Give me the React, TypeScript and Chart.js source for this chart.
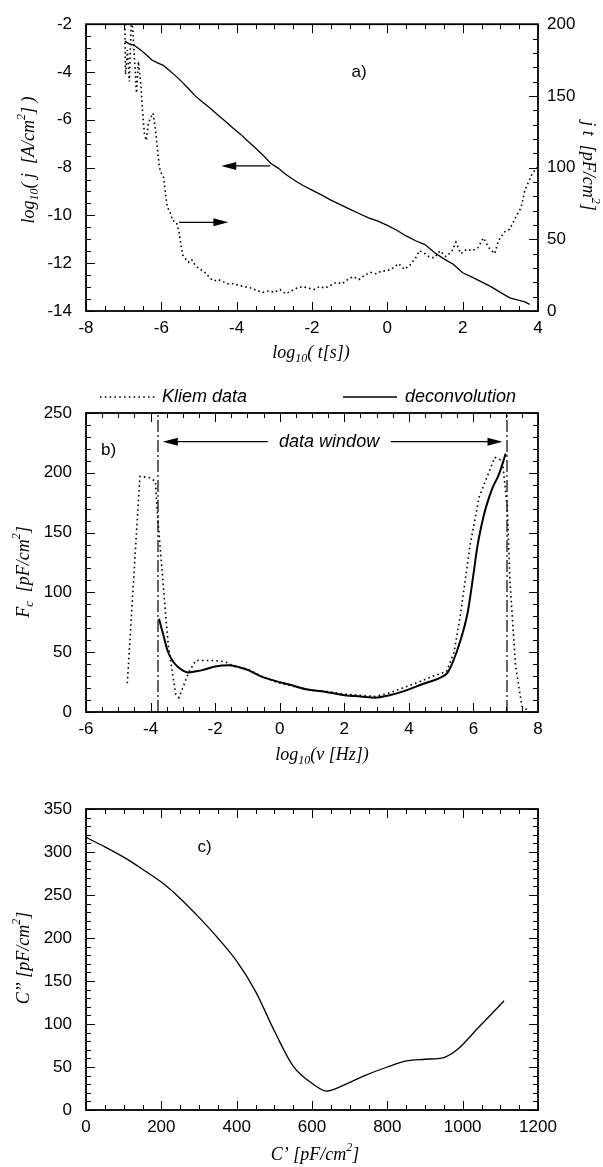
import React, { useEffect, useRef } from 'react';
import Chart from 'chart.js/auto';

// ---------- Panel a: current transient ----------
const aLogT = [-6.97, -6.85, -6.7, -6.55, -6.4, -6.25, -6.1, -5.95, -5.8, -5.65, -5.5, -5.3, -5.1, -4.9, -4.7, -4.5, -4.3, -4.1, -3.9, -3.7, -3.5, -3.3, -3.1, -2.9, -2.7, -2.5, -2.25, -2.0, -1.75, -1.5, -1.25, -1.0, -0.75, -0.5, -0.25, 0, 0.25, 0.5, 0.75, 1.0, 1.25, 1.5, 1.75, 2.0, 2.25, 2.5, 2.75, 3.0, 3.25, 3.5, 3.65, 3.78];
const aLogJ = [-2.71, -2.82, -2.9, -3.08, -3.28, -3.5, -3.62, -3.72, -3.92, -4.12, -4.34, -4.66, -5.0, -5.27, -5.52, -5.8, -6.06, -6.34, -6.6, -6.9, -7.18, -7.48, -7.82, -8.02, -8.28, -8.5, -8.74, -8.94, -9.14, -9.36, -9.55, -9.74, -9.92, -10.1, -10.24, -10.42, -10.62, -10.86, -11.06, -11.22, -11.55, -11.82, -12.04, -12.4, -12.58, -12.78, -12.98, -13.22, -13.45, -13.56, -13.62, -13.72];
const aDotT = [-6.97, -6.95, -6.9, -6.85, -6.8, -6.76, -6.7, -6.66, -6.61, -6.55, -6.5, -6.45, -6.4, -6.35, -6.3, -6.22, -6.15, -6.1, -6.05, -6.0, -5.94, -5.88, -5.84, -5.78, -5.7, -5.6, -5.53, -5.48, -5.43, -5.35, -5.28, -5.2, -5.1, -5.02, -4.9, -4.8, -4.72, -4.6, -4.5, -4.4, -4.25, -4.1, -3.95, -3.8, -3.6, -3.45, -3.3, -3.15, -3.0, -2.85, -2.7, -2.55, -2.4, -2.25, -2.1, -1.95, -1.8, -1.65, -1.5, -1.35, -1.2, -1.05, -0.9, -0.75, -0.6, -0.45, -0.3, -0.15, 0.0, 0.15, 0.3, 0.45, 0.6, 0.75, 0.85, 1.0, 1.1, 1.25, 1.4, 1.55, 1.7, 1.82, 1.95, 2.1, 2.25, 2.4, 2.55, 2.7, 2.85, 2.95, 3.1, 3.25, 3.4, 3.55, 3.65, 3.75, 3.85, 3.98];
const aJT = [200, 165, 182, 160, 200, 198, 170, 152, 174, 160, 140, 124, 119, 130, 134, 138, 125, 112, 100, 96, 93, 80, 72, 70, 63, 62, 55, 46, 39, 36, 34, 36, 32, 30, 28, 26, 23, 21, 22, 21, 19, 19, 18, 17, 16, 14, 13, 14, 13, 15, 12, 14, 16, 17, 16, 15, 17, 16, 18, 20, 19, 22, 24, 22, 25, 27, 26, 28, 28, 30, 33, 29, 32, 37, 42, 40, 38, 37, 42, 38, 41, 48, 40, 43, 42, 44, 51, 44, 40, 49, 55, 57, 65, 72, 84, 90, 96, 100];
const aXTicks = { min: -8, max: 4, major: 2, minor: 0.5 };
const aYTicks = { min: -14, max: -2, major: 2, minor: 0.5 };
const aY2Ticks = { min: 0, max: 200, major: 50, minor: 10 };

// ---------- Panel b: distribution function ----------
const bKliemNu = [-4.72, -4.33, -4.05, -3.85, -3.8, -3.65, -3.45, -3.22, -3.12, -2.82, -2.6, -2.0, -1.69, -1.4, -1.0, -0.5, 0.0, 0.5, 1.0, 1.5, 2.0, 2.5, 2.96, 3.4, 3.8, 4.3, 4.75, 5.17, 5.4, 5.59, 5.9, 6.18, 6.4, 6.66, 6.9, 7.05, 7.13, 7.3, 7.5, 7.7];
const bKliemFc = [24, 197, 196, 193, 170, 120, 55, 15, 12, 33, 43, 43, 42, 38, 36, 29, 24, 21, 18, 17, 15, 14, 13, 16, 20, 25, 30, 34, 50, 80, 140, 180, 195, 213, 210, 170, 110, 40, 5, 1];
const bDeconNu = [-3.74, -3.6, -3.47, -3.3, -3.12, -2.95, -2.82, -2.6, -2.4, -2.0, -1.57, -1.2, -0.97, -0.6, -0.14, 0.3, 0.82, 1.4, 2.01, 2.5, 2.96, 3.4, 3.8, 4.39, 4.99, 5.2, 5.35, 5.6, 5.82, 6.0, 6.12, 6.3, 6.42, 6.6, 6.78, 7.0];
const bDeconFc = [78, 64, 51, 42, 37, 34, 33, 34, 35, 38, 39, 37, 35, 30, 26, 23, 19, 17, 14, 13, 12, 14, 17, 23, 29, 33, 41, 60, 83, 115, 138, 162, 174, 188, 198, 216];
const bWindow = [-3.77, 7.04];
const bXTicks = { min: -6, max: 8, major: 2, minor: 0.5 };
const bYTicks = { min: 0, max: 250, major: 50, minor: 10 };

// ---------- Panel c: complex capacitance ----------
const cReal = [0, 50, 100, 150, 200, 250, 300, 350, 400, 450, 500, 550, 600, 640, 680, 740, 800, 850, 900, 950, 985, 1040, 1110];
const cImag = [317, 306, 294, 280, 265, 246, 224, 200, 173, 138, 92, 51, 31, 22, 28, 40, 50, 57, 59, 61, 70, 95, 127];
const cXTicks = { min: 0, max: 1200, major: 200, minor: 50 };
const cYTicks = { min: 0, max: 350, major: 50, minor: 10 };

// ---------- helpers ----------
const SANS = "'Liberation Sans', Arial, Helvetica, sans-serif";
const SERIF = "'Liberation Serif', 'Times New Roman', serif";
const PLOT_LEFT = 86;
const PLOT_RIGHT = 538;
const W = 603;
const TITLE_SIZE = 18;

type Seg = { t: string; k?: 'sub' | 'sup' };

function drawRich(ctx: CanvasRenderingContext2D, segs: Seg[], cx: number, cy: number, rot: number, size: number) {
  ctx.save();
  ctx.translate(cx, cy);
  ctx.rotate(rot);
  const base = `italic ${size}px ${SERIF}`;
  const small = `italic ${Math.round(size * 0.68)}px ${SERIF}`;
  let w = 0;
  for (const s of segs) {
    ctx.font = s.k ? small : base;
    w += ctx.measureText(s.t).width;
  }
  let x = -w / 2;
  ctx.textBaseline = 'middle';
  ctx.textAlign = 'left';
  ctx.fillStyle = '#000';
  for (const s of segs) {
    ctx.font = s.k ? small : base;
    const dy = s.k === 'sub' ? size * 0.35 : s.k === 'sup' ? -size * 0.4 : 0;
    ctx.fillText(s.t, x, dy);
    x += ctx.measureText(s.t).width;
  }
  ctx.restore();
}

function drawArrow(ctx: CanvasRenderingContext2D, x1: number, y1: number, x2: number, y2: number) {
  const len = 15, half = 4;
  const ang = Math.atan2(y2 - y1, x2 - x1);
  ctx.save();
  ctx.strokeStyle = '#000';
  ctx.fillStyle = '#000';
  ctx.lineWidth = 1.3;
  ctx.beginPath();
  ctx.moveTo(x1, y1);
  ctx.lineTo(x2 - Math.cos(ang) * len * 0.8, y2 - Math.sin(ang) * len * 0.8);
  ctx.stroke();
  ctx.beginPath();
  ctx.moveTo(x2, y2);
  ctx.lineTo(x2 - Math.cos(ang) * len - Math.sin(ang) * half, y2 - Math.sin(ang) * len + Math.cos(ang) * half);
  ctx.lineTo(x2 - Math.cos(ang) * len + Math.sin(ang) * half, y2 - Math.sin(ang) * len - Math.cos(ang) * half);
  ctx.closePath();
  ctx.fill();
  ctx.restore();
}

type TickSpec = { min: number; max: number; major: number; minor: number };

function framePlugin(sides: { side: 'left' | 'right' | 'top' | 'bottom'; scale: string; spec: TickSpec }[]) {
  return {
    id: 'frame',
    afterDatasetsDraw(chart: any) {
      const ctx: CanvasRenderingContext2D = chart.ctx;
      const a = chart.chartArea;
      ctx.save();
      ctx.strokeStyle = '#000';
      ctx.lineWidth = 1;
      for (const sd of sides) {
        const s = chart.scales[sd.scale];
        const n = Math.round((sd.spec.max - sd.spec.min) / sd.spec.minor);
        for (let i = 0; i <= n; i++) {
          const v = sd.spec.min + i * sd.spec.minor;
          const r = v / sd.spec.major;
          const isMajor = Math.abs(r - Math.round(r)) < 1e-6;
          const len = isMajor ? 9 : 5;
          const p = Math.round(s.getPixelForValue(v)) + 0.5;
          ctx.beginPath();
          if (sd.side === 'bottom') { ctx.moveTo(p, a.bottom); ctx.lineTo(p, a.bottom - len); }
          if (sd.side === 'top') { ctx.moveTo(p, a.top); ctx.lineTo(p, a.top + len); }
          if (sd.side === 'left') { ctx.moveTo(a.left, p); ctx.lineTo(a.left + len, p); }
          if (sd.side === 'right') { ctx.moveTo(a.right, p); ctx.lineTo(a.right - len, p); }
          ctx.stroke();
        }
      }
      ctx.lineWidth = 1.8;
      ctx.strokeRect(a.left, a.top, a.right - a.left, a.bottom - a.top);
      ctx.restore();
    },
  };
}

const tickFont = { family: SANS, size: 17 };

function xScale(spec: TickSpec, height: number) {
  return {
    type: 'linear' as const,
    position: 'bottom' as const,
    min: spec.min,
    max: spec.max,
    grid: { display: false, drawTicks: false },
    border: { display: false },
    ticks: { stepSize: spec.major, color: '#000', font: tickFont, padding: 7, maxRotation: 0, callback: (v: any) => String(v) },
    afterFit: (s: any) => { s.height = height; },
  };
}

function yScale(spec: TickSpec, width: number, position: 'left' | 'right', padding: number) {
  return {
    type: 'linear' as const,
    position,
    min: spec.min,
    max: spec.max,
    grid: { display: false, drawTicks: false },
    border: { display: false },
    ticks: { stepSize: spec.major, color: '#000', font: tickFont, padding, callback: (v: any) => String(v) },
    afterFit: (s: any) => { s.width = width; },
  };
}

function pts(xs: number[], ys: number[]) {
  return xs.map((x, i) => ({ x, y: ys[i] }));
}

function useChart(build: () => any) {
  const ref = useRef<HTMLCanvasElement>(null);
  useEffect(() => {
    if (!ref.current) return;
    const chart = new Chart(ref.current, build());
    return () => chart.destroy();
  }, []);
  return ref;
}

const baseOptions = (padTop: number, padRight: number) => ({
  responsive: false,
  animation: false,
  devicePixelRatio: 1,
  layout: { padding: { top: padTop, right: padRight, left: 0, bottom: 0 } },
  plugins: { legend: { display: false }, tooltip: { enabled: false }, title: { display: false } },
});

// ---------- Panel a ----------
const A_H = 370;
function PanelA() {
  const ref = useChart(() => ({
    type: 'scatter',
    data: {
      datasets: [
        { data: pts(aLogT, aLogJ), yAxisID: 'y', showLine: true, borderColor: '#000', borderWidth: 1.3, pointRadius: 0, tension: 0 },
        { data: pts(aDotT, aJT), yAxisID: 'y2', showLine: true, borderColor: '#000', borderWidth: 1.6, borderDash: [1.6, 3], pointRadius: 0, tension: 0 },
      ],
    },
    options: {
      ...baseOptions(17, 0),
      scales: {
        x: xScale(aXTicks, A_H - 311),
        y: yScale(aYTicks, PLOT_LEFT, 'left', 14),
        y2: yScale(aY2Ticks, W - PLOT_RIGHT, 'right', 9),
      },
    },
    plugins: [
      framePlugin([
        { side: 'bottom', scale: 'x', spec: aXTicks },
        { side: 'top', scale: 'x', spec: aXTicks },
        { side: 'left', scale: 'y', spec: aYTicks },
        { side: 'right', scale: 'y2', spec: aY2Ticks },
      ]),
      {
        id: 'annA',
        afterDraw(chart: any) {
          const ctx = chart.ctx as CanvasRenderingContext2D;
          const x = chart.scales.x, y = chart.scales.y;
          drawArrow(ctx, x.getPixelForValue(-3.11), y.getPixelForValue(-7.93), x.getPixelForValue(-4.41), y.getPixelForValue(-7.93));
          drawArrow(ctx, x.getPixelForValue(-5.53), y.getPixelForValue(-10.29), x.getPixelForValue(-4.22), y.getPixelForValue(-10.29));
          ctx.save();
          ctx.font = `17px ${SANS}`;
          ctx.fillStyle = '#000';
          ctx.textAlign = 'center';
          ctx.textBaseline = 'middle';
          ctx.fillText('a)', x.getPixelForValue(-0.75), y.getPixelForValue(-4.0));
          ctx.restore();
          drawRich(ctx, [{ t: 'log' }, { t: '10', k: 'sub' }, { t: '( t[s])' }], 311, 353, 0, TITLE_SIZE);
          drawRich(ctx, [{ t: 'log' }, { t: '10', k: 'sub' }, { t: '( j  [A/cm' }, { t: '2', k: 'sup' }, { t: '] )' }], 29, 160, -Math.PI / 2, TITLE_SIZE);
          drawRich(ctx, [{ t: 'j t  [pF/cm' }, { t: '2', k: 'sup' }, { t: ']' }], 588, 166, Math.PI / 2, TITLE_SIZE);
        },
      },
    ],
  }));
  return <canvas ref={ref} width={W} height={A_H} style={{ position: 'absolute', left: 0, top: 0, display: 'block' }} />;
}

// ---------- Panel b ----------
const B_TOP = 370;
const B_H = 410;
function PanelB() {
  const ref = useChart(() => ({
    type: 'scatter',
    data: {
      datasets: [
        { data: pts(bKliemNu, bKliemFc), showLine: true, borderColor: '#000', borderWidth: 1.6, borderDash: [1.6, 3.2], pointRadius: 0, tension: 0 },
        { data: pts(bDeconNu, bDeconFc), showLine: true, borderColor: '#000', borderWidth: 2, pointRadius: 0, tension: 0.35, cubicInterpolationMode: 'monotone' },
        { data: [{ x: bWindow[0], y: bYTicks.min }, { x: bWindow[0], y: bYTicks.max }], showLine: true, borderColor: '#000', borderWidth: 1.2, borderDash: [12, 3, 2, 3], pointRadius: 0 },
        { data: [{ x: bWindow[1], y: bYTicks.min }, { x: bWindow[1], y: bYTicks.max }], showLine: true, borderColor: '#000', borderWidth: 1.2, borderDash: [12, 3, 2, 3], pointRadius: 0 },
      ],
    },
    options: {
      ...baseOptions(413 - B_TOP, W - PLOT_RIGHT),
      scales: {
        x: xScale(bXTicks, B_H - (712 - B_TOP)),
        y: yScale(bYTicks, PLOT_LEFT, 'left', 14),
      },
    },
    plugins: [
      framePlugin([
        { side: 'bottom', scale: 'x', spec: bXTicks },
        { side: 'top', scale: 'x', spec: bXTicks },
        { side: 'left', scale: 'y', spec: bYTicks },
        { side: 'right', scale: 'y', spec: bYTicks },
      ]),
      {
        id: 'annB',
        afterDraw(chart: any) {
          const ctx = chart.ctx as CanvasRenderingContext2D;
          const x = chart.scales.x, y = chart.scales.y;
          const yw = y.getPixelForValue(226);
          drawArrow(ctx, x.getPixelForValue(-0.37), yw, x.getPixelForValue(-3.62), yw);
          drawArrow(ctx, x.getPixelForValue(3.44), yw, x.getPixelForValue(6.9), yw);
          ctx.save();
          ctx.fillStyle = '#000';
          ctx.textBaseline = 'middle';
          ctx.textAlign = 'center';
          ctx.font = `italic 18px ${SANS}`;
          ctx.fillText('data window', x.getPixelForValue(1.53), yw);
          ctx.font = `17px ${SANS}`;
          ctx.fillText('b)', x.getPixelForValue(-5.3), y.getPixelForValue(219));
          // legend
          const ly = 397 - B_TOP;
          ctx.strokeStyle = '#000';
          ctx.lineWidth = 1.6;
          ctx.setLineDash([1.6, 3.2]);
          ctx.beginPath(); ctx.moveTo(100, ly); ctx.lineTo(157, ly); ctx.stroke();
          ctx.setLineDash([]);
          ctx.lineWidth = 1.3;
          ctx.beginPath(); ctx.moveTo(343, ly); ctx.lineTo(397, ly); ctx.stroke();
          ctx.textAlign = 'left';
          ctx.font = `italic 18px ${SANS}`;
          ctx.fillText('Kliem data', 162, ly);
          ctx.fillText('deconvolution', 405, ly);
          ctx.restore();
          drawRich(ctx, [{ t: 'log' }, { t: '10', k: 'sub' }, { t: '(ν [Hz])' }], 322, 755 - B_TOP, 0, TITLE_SIZE);
          drawRich(ctx, [{ t: 'F' }, { t: 'c', k: 'sub' }, { t: '  [pF/cm' }, { t: '2', k: 'sup' }, { t: ']' }], 24, 572 - B_TOP, -Math.PI / 2, TITLE_SIZE);
        },
      },
    ],
  }));
  return <canvas ref={ref} width={W} height={B_H} style={{ position: 'absolute', left: 0, top: B_TOP, display: 'block' }} />;
}

// ---------- Panel c ----------
const C_TOP = 780;
const C_H = 387;
function PanelC() {
  const ref = useChart(() => ({
    type: 'scatter',
    data: {
      datasets: [
        { data: pts(cReal, cImag), showLine: true, borderColor: '#000', borderWidth: 1.3, pointRadius: 0, tension: 0.4, cubicInterpolationMode: 'monotone' },
      ],
    },
    options: {
      ...baseOptions(809 - C_TOP, W - PLOT_RIGHT),
      scales: {
        x: xScale(cXTicks, C_H - (1110 - C_TOP)),
        y: yScale(cYTicks, PLOT_LEFT, 'left', 14),
      },
    },
    plugins: [
      framePlugin([
        { side: 'bottom', scale: 'x', spec: cXTicks },
        { side: 'top', scale: 'x', spec: cXTicks },
        { side: 'left', scale: 'y', spec: cYTicks },
        { side: 'right', scale: 'y', spec: cYTicks },
      ]),
      {
        id: 'annC',
        afterDraw(chart: any) {
          const ctx = chart.ctx as CanvasRenderingContext2D;
          const x = chart.scales.x, y = chart.scales.y;
          ctx.save();
          ctx.fillStyle = '#000';
          ctx.textBaseline = 'middle';
          ctx.textAlign = 'center';
          ctx.font = `17px ${SANS}`;
          ctx.fillText('c)', x.getPixelForValue(315), y.getPixelForValue(305));
          ctx.restore();
          drawRich(ctx, [{ t: 'C’ [pF/cm' }, { t: '2', k: 'sup' }, { t: ']' }], 315, 1155 - C_TOP, 0, TITLE_SIZE);
          drawRich(ctx, [{ t: 'C’’ [pF/cm' }, { t: '2', k: 'sup' }, { t: ']' }], 24, 958 - C_TOP, -Math.PI / 2, TITLE_SIZE);
        },
      },
    ],
  }));
  return <canvas ref={ref} width={W} height={C_H} style={{ position: 'absolute', left: 0, top: C_TOP, display: 'block' }} />;
}

export default function App() {
  return (
    <div style={{ position: 'absolute', left: 0, top: 0, width: W, height: 1167, background: '#fff' }}>
      <PanelA />
      <PanelB />
      <PanelC />
    </div>
  );
}
